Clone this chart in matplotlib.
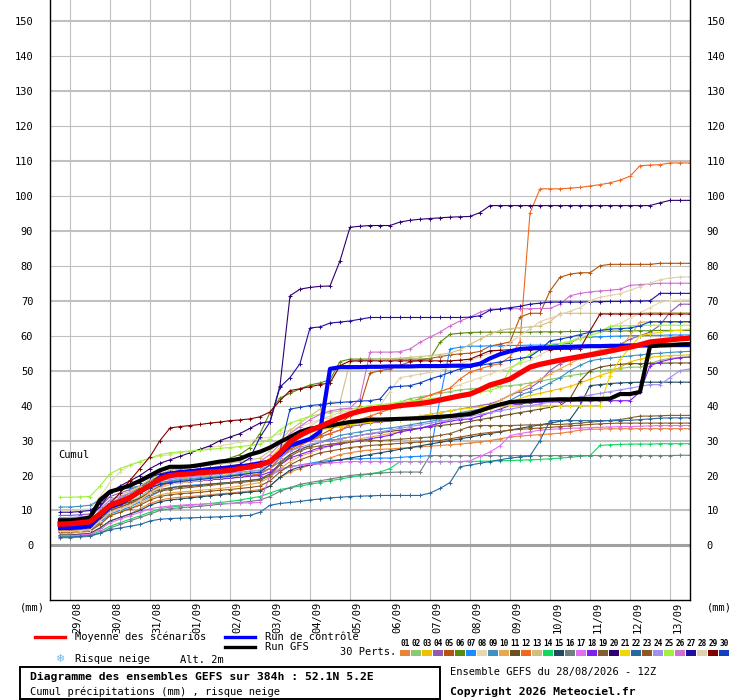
import matplotlib
matplotlib.use('Agg')
import matplotlib.pyplot as plt
from matplotlib.lines import Line2D
from matplotlib.patches import Rectangle
import numpy as np

# ---- data (cumulative precipitation, mm, every 6h from +6h to +384h) ----
hours = np.arange(6, 385, 6)

mean_run = [6.1, 6.2, 6.5, 6.8, 9.0, 11.5, 12.5, 13.7,
            15.5, 17.2, 19.0, 20.0, 20.3, 20.5, 20.8, 21.0,
            21.2, 21.5, 22.0, 22.5, 23.0, 24.0, 26.5, 29.6,
            31.5, 32.9, 34.0, 35.3, 36.5, 37.6, 38.4, 39.0,
            39.3, 39.6, 40.0, 40.3, 40.6, 41.0, 41.6, 42.2,
            42.8, 43.3, 44.5, 45.9, 46.7, 47.6, 49.3, 51.0,
            51.8, 52.4, 53.0, 53.5, 54.0, 54.5, 55.0, 55.6,
            56.2, 56.7, 57.4, 58.2, 58.5, 58.8, 59.1, 59.3]

gfs_run = [7.2, 7.2, 7.5, 8.0, 13.0, 15.4, 16.2, 17.2,
           18.5, 20.0, 21.5, 22.5, 22.5, 22.6, 23.0, 23.5,
           24.0, 24.3, 24.8, 26.0, 26.8, 28.0, 29.6, 31.0,
           32.5, 33.4, 33.8, 34.3, 34.8, 35.3, 35.6, 36.0,
           36.0, 36.1, 36.2, 36.3, 36.4, 36.6, 36.8, 37.0,
           37.3, 37.6, 38.5, 39.5, 40.3, 41.0, 41.2, 41.4,
           41.6, 41.7, 41.8, 41.8, 41.9, 41.9, 41.9, 42.0,
           43.3, 43.3, 43.9, 57.0, 57.2, 57.3, 57.5, 57.6]

control_run = [5.0, 5.0, 5.2, 5.5, 8.5, 11.0, 12.0, 13.5,
               15.5, 17.0, 19.5, 20.5, 21.0, 21.2, 21.5, 21.8,
               22.0, 22.2, 22.5, 23.0, 23.5, 24.0, 26.0, 28.6,
               29.5, 30.5, 32.5, 50.5, 51.0, 51.0, 51.0, 51.1,
               51.1, 51.2, 51.2, 51.2, 51.3, 51.3, 51.3, 51.4,
               51.4, 51.4, 52.0, 53.5, 54.7, 55.5, 56.2, 56.4,
               56.5, 56.6, 56.7, 56.8, 56.9, 57.0, 57.0, 57.1,
               57.1, 57.2, 57.2, 57.2, 57.3, 57.3, 57.3, 57.3]

pert01 = [3.0, 3.0, 3.2, 3.5, 5.0, 7.0, 8.0, 9.0, 10.5, 12.0, 13.0, 13.5, 13.8, 14.0, 14.2, 14.5,
          14.8, 15.0, 15.3, 15.6, 16.0, 17.0, 19.5, 21.0, 22.0, 23.0, 24.0, 25.0, 26.0, 26.5, 27.0, 27.3,
          27.5, 27.6, 27.8, 28.0, 28.2, 28.4, 28.6, 28.8, 29.0, 29.3, 29.6, 30.0, 30.5, 31.0, 31.3, 31.5,
          31.7, 31.9, 32.1, 32.5, 33.0, 33.2, 33.3, 33.4, 33.4, 33.4, 33.4, 33.4, 33.4, 33.4, 33.4, 33.4]
pert02 = [4.0, 4.0, 4.2, 4.5, 7.0, 10.0, 11.5, 12.5, 14.0, 16.0, 17.5, 18.5, 19.0, 19.2, 19.5, 19.8,
          20.0, 20.3, 20.6, 21.0, 21.5, 23.0, 26.0, 29.0, 31.0, 33.0, 34.5, 35.5, 36.5, 37.5, 38.5, 39.0,
          39.5, 40.0, 41.0, 42.0, 42.5, 43.0, 43.5, 44.0, 44.5, 44.8, 45.0, 45.3, 45.5, 45.7, 46.0, 46.5,
          47.0, 47.5, 48.0, 48.6, 49.0, 49.5, 50.0, 50.3, 50.6, 51.0, 51.0, 52.0, 53.0, 53.5, 53.8, 53.9]
pert03 = [5.0, 5.0, 5.3, 5.6, 8.0, 11.0, 12.5, 13.5, 15.0, 17.0, 18.5, 19.5, 20.0, 20.2, 20.5, 20.8,
          21.0, 21.3, 21.6, 22.0, 22.5, 24.0, 27.0, 30.0, 31.5, 32.5, 33.0, 33.5, 34.0, 34.5, 35.0, 35.3,
          35.6, 35.8, 36.0, 36.2, 36.4, 36.6, 36.8, 37.0, 37.3, 37.6, 38.3, 39.0, 40.0, 41.0, 42.0, 42.9,
          43.5, 44.2, 44.8, 45.5, 46.5, 47.5, 48.6, 49.5, 51.0, 52.5, 53.3, 53.8, 54.1, 54.3, 54.4, 54.5]
pert04 = [8.6, 8.6, 8.8, 9.0, 11.0, 14.0, 15.0, 16.0, 17.0, 18.5, 19.5, 20.0, 20.3, 20.5, 20.8, 21.0,
          21.2, 21.5, 21.8, 22.0, 22.5, 24.0, 26.0, 28.0, 29.0, 30.0, 31.0, 32.0, 33.0, 34.0, 34.5, 35.0,
          35.3, 35.6, 36.0, 36.5, 37.0, 37.5, 38.0, 38.5, 39.0, 39.5, 40.0, 40.5, 41.5, 43.0, 44.0, 45.0,
          47.0, 50.0, 52.0, 53.0, 54.0, 55.0, 55.5, 56.0, 57.5, 59.0, 60.0, 61.0, 63.0, 66.7, 69.0, 69.0]
pert05 = [4.5, 4.5, 4.7, 5.0, 7.5, 10.0, 11.0, 12.0, 13.5, 15.5, 17.0, 18.0, 18.3, 18.5, 18.7, 19.0,
          19.2, 19.5, 19.8, 20.0, 20.5, 22.0, 25.0, 27.5, 29.0, 30.0, 31.5, 33.0, 35.0, 37.0, 40.0, 49.3,
          50.0, 50.5, 51.5, 52.5, 53.0, 53.5, 54.0, 54.5, 54.8, 55.0, 55.5, 57.0, 57.6, 58.2, 65.3, 66.4,
          66.4, 72.8, 76.7, 77.6, 78.0, 78.0, 80.0, 80.4, 80.4, 80.4, 80.4, 80.4, 80.7, 80.7, 80.7, 80.7]
pert06 = [6.0, 6.0, 6.2, 6.5, 9.0, 12.0, 13.5, 15.0, 16.5, 18.5, 20.0, 21.5, 22.0, 22.5, 23.0, 23.5,
          24.0, 25.0, 26.0, 28.0, 32.0, 38.0, 42.2, 43.5, 44.8, 45.9, 46.5, 47.4, 52.6, 53.3, 53.3, 53.3,
          53.3, 53.3, 53.3, 53.3, 53.3, 53.4, 58.1, 60.4, 60.7, 60.9, 61.0, 61.0, 61.0, 61.0, 61.0, 61.0,
          61.1, 61.1, 61.1, 61.2, 61.2, 61.2, 61.3, 61.3, 61.3, 61.4, 61.4, 61.4, 61.5, 61.5, 61.5, 61.5]
pert07 = [4.0, 4.0, 4.2, 4.4, 6.5, 9.0, 10.0, 11.0, 12.5, 14.0, 15.5, 16.5, 17.0, 17.2, 17.4, 17.6,
          17.8, 18.0, 18.3, 18.6, 19.0, 20.0, 21.5, 22.5, 23.0, 23.5, 24.0, 24.3, 24.5, 24.7, 24.8, 24.9,
          25.0, 25.0, 25.2, 25.4, 25.5, 25.7, 42.0, 56.2, 56.7, 57.0, 57.0, 57.1, 57.1, 57.2, 57.2, 57.3,
          57.3, 57.4, 57.5, 57.8, 59.6, 59.6, 59.7, 59.8, 59.9, 60.0, 60.0, 60.1, 60.1, 60.2, 60.2, 60.2]
pert08 = [10.0, 10.0, 10.2, 10.5, 14.0, 18.0, 21.0, 23.0, 24.0, 25.0, 25.5, 26.0, 26.5, 27.0, 27.5, 28.0,
          28.5, 29.0, 29.5, 30.0, 30.5, 31.0, 32.0, 33.0, 34.0, 35.0, 36.0, 36.5, 37.0, 37.5, 38.0, 38.5,
          39.0, 39.5, 40.0, 41.0, 42.0, 43.0, 44.0, 45.0, 46.0, 47.0, 48.0, 49.0, 50.0, 51.0, 52.0, 53.0,
          54.5, 56.0, 57.5, 58.5, 59.5, 60.5, 61.5, 62.5, 63.5, 65.0, 66.5, 68.0, 69.5, 70.0, 70.2, 70.2]
pert09 = [11.0, 11.0, 11.2, 11.5, 13.0, 15.0, 16.0, 16.5, 17.0, 17.5, 18.0, 18.5, 18.7, 19.0, 19.2, 19.5,
          19.7, 20.0, 20.3, 20.6, 21.0, 22.0, 24.0, 26.0, 27.5, 28.5, 29.5, 30.5, 31.5, 32.0, 32.5, 33.0,
          33.3, 33.6, 34.0, 34.5, 35.0, 35.5, 36.0, 37.0, 38.0, 38.5, 39.0, 39.5, 40.0, 41.5, 43.0, 44.0,
          45.0, 46.5, 48.0, 50.0, 51.5, 52.8, 53.3, 53.6, 53.9, 54.2, 54.5, 54.8, 55.0, 55.2, 55.4, 55.5]
pert10 = [3.5, 3.5, 3.7, 4.0, 6.0, 8.5, 9.5, 10.5, 12.0, 13.5, 14.5, 15.0, 15.3, 15.5, 15.8, 16.0,
          16.3, 16.6, 17.0, 17.5, 18.0, 19.5, 22.0, 24.0, 25.5, 26.5, 27.5, 28.5, 29.5, 30.0, 30.5, 31.0,
          31.5, 32.0, 32.5, 33.0, 33.5, 34.0, 35.0, 36.0, 37.0, 38.0, 39.0, 40.0, 41.5, 43.0, 44.5, 46.0,
          47.5, 49.0, 50.5, 52.0, 53.5, 55.0, 56.0, 56.3, 56.5, 60.0, 63.9, 63.9, 63.9, 63.9, 63.9, 63.9]
pert11 = [5.5, 5.5, 5.7, 6.0, 8.0, 10.5, 11.5, 12.5, 13.5, 15.0, 16.0, 16.5, 16.8, 17.0, 17.2, 17.5,
          17.8, 18.0, 18.3, 18.6, 19.0, 20.5, 23.5, 26.0, 27.5, 28.5, 29.5, 30.0, 30.5, 31.0, 31.5, 32.0,
          32.3, 32.6, 33.0, 33.3, 33.6, 34.0, 34.3, 34.6, 35.0, 35.5, 36.0, 36.5, 37.0, 37.5, 38.0, 38.5,
          39.0, 39.5, 40.0, 42.0, 47.0, 50.0, 51.0, 51.5, 51.8, 52.0, 52.0, 52.1, 52.1, 52.2, 52.2, 52.2]
pert12 = [4.2, 4.2, 4.4, 4.6, 7.0, 9.5, 10.5, 11.5, 13.0, 15.0, 16.5, 17.5, 18.0, 18.2, 18.5, 18.8,
          19.0, 19.3, 19.6, 20.0, 20.5, 22.0, 25.0, 27.0, 28.5, 30.0, 31.0, 32.0, 33.0, 34.5, 36.0, 37.0,
          38.0, 39.0, 40.0, 41.0, 42.0, 43.0, 44.0, 45.0, 47.6, 49.6, 50.5, 51.4, 52.0, 54.0, 58.3, 95.1,
          102.0, 102.0, 102.0, 102.2, 102.4, 102.8, 103.2, 103.7, 104.5, 105.6, 108.6, 108.8, 108.9, 109.4, 109.4, 109.4]
pert13 = [7.0, 7.0, 7.2, 7.5, 10.0, 13.0, 14.5, 15.5, 17.0, 19.0, 20.5, 21.5, 22.0, 22.3, 22.6, 23.0,
          23.3, 23.6, 24.0, 24.5, 25.0, 27.0, 30.0, 33.0, 35.0, 37.0, 39.0, 41.0, 41.0, 52.5, 52.8, 53.0,
          53.2, 53.4, 53.6, 53.8, 54.0, 54.3, 54.6, 55.0, 56.0, 57.5, 59.0, 60.5, 61.5, 62.0, 62.3, 62.5,
          62.8, 64.0, 66.4, 66.4, 66.4, 66.4, 66.4, 66.4, 66.4, 66.4, 66.4, 66.6, 66.6, 66.6, 66.6, 66.6]
pert14 = [2.6, 2.6, 2.8, 3.0, 4.0, 5.5, 6.5, 7.5, 8.5, 9.5, 10.5, 11.0, 11.3, 11.5, 11.7, 12.0,
          12.3, 12.6, 13.0, 13.5, 14.0, 15.0, 16.0, 16.5, 17.0, 17.5, 18.0, 18.5, 19.0, 19.5, 20.0, 20.5,
          21.0, 22.0, 24.0, 24.0, 24.0, 24.0, 24.0, 24.0, 24.0, 24.0, 24.1, 24.1, 24.2, 24.3, 24.4, 24.5,
          24.6, 24.8, 25.0, 25.2, 25.5, 25.7, 28.6, 28.8, 28.9, 29.0, 29.0, 29.0, 29.1, 29.1, 29.1, 29.1]
pert15 = [3.0, 3.0, 3.2, 3.4, 5.0, 7.0, 8.0, 9.0, 10.0, 11.5, 12.5, 13.0, 13.3, 13.6, 13.9, 14.2,
          14.5, 14.8, 15.0, 15.3, 15.6, 17.0, 19.5, 21.5, 22.5, 23.0, 23.5, 24.0, 24.5, 25.0, 25.5, 26.0,
          26.5, 27.0, 27.5, 28.0, 28.5, 29.0, 29.5, 30.0, 30.5, 31.0, 31.5, 32.0, 32.5, 33.0, 33.5, 34.0,
          34.5, 35.0, 35.5, 36.0, 40.0, 45.7, 46.0, 46.3, 46.5, 46.6, 46.7, 46.7, 46.7, 46.7, 46.7, 46.7]
pert16 = [2.2, 2.2, 2.4, 2.6, 3.5, 5.0, 6.0, 7.0, 8.0, 9.0, 10.0, 10.5, 10.8, 11.0, 11.2, 11.5,
          11.8, 12.0, 12.3, 12.6, 13.0, 14.0, 15.5, 16.5, 17.5, 18.0, 18.5, 19.0, 19.5, 20.0, 20.3, 20.5,
          20.7, 20.9, 21.0, 21.0, 21.0, 25.7, 25.7, 25.7, 25.7, 25.7, 25.7, 25.7, 25.7, 25.7, 25.7, 25.7,
          25.7, 25.7, 25.7, 25.7, 25.7, 25.7, 25.7, 25.7, 25.7, 25.7, 25.7, 25.7, 25.7, 25.7, 25.8, 25.8]
pert17 = [2.8, 2.8, 3.0, 3.2, 4.5, 6.5, 7.5, 8.5, 9.5, 10.5, 11.0, 11.3, 11.5, 11.7, 11.8, 12.0,
          12.0, 12.0, 12.1, 12.2, 12.3, 20.0, 22.0, 22.5, 23.0, 23.2, 23.4, 23.6, 23.8, 24.0, 24.0, 24.0,
          24.0, 24.0, 24.0, 24.0, 24.0, 24.0, 24.0, 24.0, 24.0, 24.2, 25.5, 26.7, 28.5, 31.4, 32.0, 32.5,
          33.0, 33.2, 33.4, 33.5, 33.6, 33.7, 33.8, 33.9, 34.0, 34.0, 34.1, 34.2, 34.3, 34.3, 34.3, 34.3]
pert18 = [6.5, 6.5, 6.7, 7.0, 9.5, 12.0, 13.0, 14.0, 15.0, 16.5, 17.5, 18.0, 18.2, 18.4, 18.6, 18.8,
          19.0, 19.2, 19.5, 19.8, 20.0, 21.0, 23.0, 25.0, 26.0, 27.0, 28.0, 28.5, 29.0, 29.5, 30.0, 30.5,
          31.0, 31.5, 32.5, 33.0, 33.5, 34.3, 35.0, 35.5, 36.0, 36.2, 37.0, 38.0, 39.0, 40.0, 40.5, 40.8,
          41.0, 41.0, 41.1, 41.2, 41.3, 41.3, 41.4, 41.4, 41.4, 41.4, 43.9, 51.4, 52.5, 53.2, 53.7, 53.9]
pert19 = [4.8, 4.8, 5.0, 5.2, 7.5, 10.0, 11.0, 12.0, 13.0, 14.5, 15.5, 16.0, 16.3, 16.6, 16.9, 17.2,
          17.5, 17.8, 18.0, 18.3, 18.6, 20.0, 23.0, 25.5, 27.0, 28.0, 28.5, 29.0, 29.3, 29.6, 29.8, 30.0,
          30.0, 30.2, 30.4, 30.6, 30.8, 31.0, 31.5, 32.0, 33.0, 34.0, 34.3, 34.3, 34.3, 34.3, 34.4, 34.5,
          34.5, 34.6, 34.6, 34.8, 35.0, 35.3, 35.5, 35.8, 36.0, 36.5, 37.0, 37.0, 37.1, 37.2, 37.2, 37.2]
pert20 = [7.5, 7.5, 7.7, 8.0, 11.0, 15.0, 17.0, 18.5, 20.0, 22.0, 23.5, 24.5, 25.5, 26.5, 27.5, 28.5,
          30.0, 31.0, 32.0, 33.5, 35.0, 35.4, 45.7, 71.4, 73.3, 73.8, 74.1, 74.2, 81.4, 91.0, 91.3, 91.5,
          91.5, 91.5, 92.5, 93.0, 93.3, 93.5, 93.7, 93.9, 94.0, 94.1, 95.2, 97.2, 97.2, 97.2, 97.2, 97.2,
          97.2, 97.2, 97.2, 97.2, 97.2, 97.2, 97.2, 97.2, 97.2, 97.2, 97.2, 97.2, 98.0, 98.7, 98.7, 98.7]
pert21 = [5.2, 5.2, 5.4, 5.7, 8.5, 11.5, 13.0, 14.0, 15.5, 17.5, 19.0, 20.0, 20.4, 20.7, 21.0, 21.3,
          21.6, 22.0, 22.3, 22.6, 23.0, 25.0, 28.0, 30.5, 32.0, 33.0, 33.5, 34.0, 34.3, 34.6, 35.0, 35.3,
          35.5, 35.8, 36.0, 36.5, 37.0, 37.5, 38.0, 38.5, 39.0, 39.3, 39.6, 39.8, 40.0, 40.0, 40.0, 40.0,
          40.0, 40.0, 40.0, 40.0, 40.0, 40.0, 40.0, 48.6, 53.3, 56.5, 60.0, 60.5, 61.0, 61.3, 61.6, 61.9]
pert22 = [2.4, 2.4, 2.6, 2.8, 3.5, 4.5, 5.0, 5.5, 6.0, 7.0, 7.5, 7.7, 7.8, 7.9, 8.0, 8.1,
          8.2, 8.3, 8.5, 8.6, 9.5, 11.5, 12.0, 12.3, 12.6, 13.0, 13.3, 13.6, 13.8, 14.0, 14.1, 14.2,
          14.3, 14.3, 14.3, 14.3, 14.3, 15.0, 16.3, 18.0, 22.5, 23.0, 23.5, 24.0, 24.5, 25.0, 25.3, 25.6,
          30.0, 35.7, 35.7, 35.7, 35.7, 35.7, 35.7, 35.7, 35.7, 35.8, 36.0, 36.2, 36.4, 36.5, 36.5, 36.5]
pert23 = [3.8, 3.8, 4.0, 4.2, 6.0, 8.5, 9.5, 10.5, 11.5, 13.0, 14.0, 14.5, 14.8, 15.0, 15.2, 15.5,
          15.8, 16.0, 16.3, 16.6, 17.0, 18.5, 21.0, 23.0, 24.5, 25.5, 26.5, 27.0, 27.5, 28.0, 28.3, 28.6,
          28.8, 29.0, 29.2, 29.4, 29.6, 29.8, 30.0, 30.5, 31.0, 31.5, 32.0, 32.3, 32.6, 33.0, 33.2, 33.4,
          33.6, 33.8, 34.0, 34.2, 34.4, 34.6, 34.8, 34.9, 35.0, 35.0, 35.0, 35.0, 35.0, 35.0, 35.0, 35.0]
pert24 = [8.0, 8.0, 8.2, 8.5, 10.5, 13.0, 14.0, 15.0, 16.0, 17.5, 18.5, 19.0, 19.3, 19.6, 19.9, 20.2,
          20.5, 20.8, 21.0, 21.3, 21.6, 23.0, 25.0, 27.0, 28.0, 29.0, 29.5, 30.0, 30.5, 31.0, 31.5, 32.0,
          32.5, 33.0, 33.5, 34.0, 34.5, 35.0, 35.5, 36.0, 36.5, 37.0, 37.5, 38.0, 38.5, 39.0, 39.5, 40.0,
          40.5, 41.0, 41.5, 42.0, 42.5, 43.0, 43.5, 44.0, 44.5, 45.0, 45.5, 46.0, 46.0, 48.0, 50.0, 50.5]
pert25 = [13.8, 13.8, 13.9, 14.0, 17.0, 20.5, 22.0, 23.0, 24.0, 25.0, 26.0, 26.5, 26.8, 27.0, 27.2, 27.5,
          27.8, 28.0, 28.3, 28.6, 29.0, 30.5, 33.0, 35.0, 36.0, 37.0, 37.5, 38.0, 38.5, 39.0, 39.5, 40.0,
          40.3, 40.6, 41.0, 41.3, 41.6, 42.0, 42.3, 42.6, 43.0, 43.3, 43.8, 44.3, 45.3, 50.5, 52.5, 54.7,
          56.0, 57.6, 57.8, 58.3, 59.0, 60.0, 61.0, 62.7, 62.8, 62.9, 62.9, 63.0, 63.0, 63.0, 63.0, 63.0]
pert26 = [5.8, 5.8, 6.0, 6.3, 9.0, 12.0, 13.5, 14.5, 16.0, 18.0, 19.5, 20.5, 21.0, 21.3, 21.6, 22.0,
          22.3, 22.6, 23.0, 23.5, 24.0, 26.0, 29.0, 32.0, 34.0, 36.0, 37.5, 38.5, 39.0, 39.3, 42.0, 55.3,
          55.3, 55.3, 55.4, 56.2, 58.1, 59.6, 61.0, 62.8, 64.2, 65.3, 66.7, 67.6, 67.6, 67.7, 67.7, 67.7,
          67.8, 67.8, 69.0, 71.4, 72.1, 72.5, 72.8, 73.0, 73.3, 74.4, 74.6, 74.8, 75.0, 75.0, 75.0, 75.0]
pert27 = [9.5, 9.5, 9.7, 10.0, 12.0, 15.0, 16.0, 17.0, 18.0, 19.5, 20.5, 21.0, 21.3, 21.6, 21.9, 22.2,
          22.5, 22.8, 23.2, 25.0, 31.0, 35.3, 45.3, 48.0, 52.0, 62.2, 62.5, 63.6, 63.9, 64.2, 64.7, 65.2,
          65.2, 65.2, 65.2, 65.2, 65.2, 65.2, 65.2, 65.2, 65.2, 65.3, 65.7, 67.3, 67.6, 68.0, 68.4, 69.0,
          69.3, 69.6, 69.6, 69.6, 69.6, 69.7, 69.7, 69.8, 69.8, 69.9, 69.9, 70.0, 72.1, 72.1, 72.1, 72.1]
pert28 = [4.0, 4.0, 4.2, 4.5, 7.0, 9.5, 10.5, 11.5, 13.0, 15.0, 16.5, 17.5, 18.0, 18.3, 18.6, 19.0,
          19.3, 19.6, 20.0, 20.5, 21.0, 23.0, 27.0, 30.0, 32.0, 34.0, 36.0, 37.0, 38.0, 38.5, 39.0, 39.5,
          40.0, 44.0, 48.0, 48.5, 49.0, 49.5, 50.0, 51.0, 52.0, 53.0, 54.0, 55.0, 56.0, 58.0, 60.0, 62.0,
          64.0, 65.0, 66.0, 67.0, 68.0, 70.0, 71.0, 71.5, 72.0, 73.0, 74.0, 75.0, 76.0, 76.5, 76.8, 76.8]
pert29 = [5.0, 5.0, 5.2, 5.5, 8.0, 12.0, 15.0, 18.6, 22.0, 25.4, 30.0, 33.6, 34.0, 34.3, 34.6, 35.0,
          35.3, 35.7, 35.9, 36.2, 36.8, 38.2, 41.4, 44.3, 44.8, 45.4, 46.0, 46.5, 51.4, 52.8, 52.8, 52.8,
          52.8, 52.8, 52.8, 52.8, 52.8, 52.8, 52.8, 52.8, 53.0, 53.3, 54.5, 55.7, 55.8, 56.0, 56.0, 56.0,
          56.0, 56.0, 56.1, 56.1, 56.2, 61.4, 66.2, 66.2, 66.2, 66.2, 66.2, 66.2, 66.2, 66.2, 66.2, 66.2]
pert30 = [6.5, 6.5, 6.7, 7.0, 9.0, 12.0, 13.0, 14.0, 15.0, 16.5, 17.5, 18.0, 18.3, 18.6, 18.9, 19.2,
          19.5, 19.8, 20.2, 20.6, 21.0, 23.0, 27.0, 39.0, 39.5, 40.0, 40.3, 40.6, 40.9, 41.1, 41.3, 41.4,
          41.9, 45.3, 45.5, 45.7, 46.5, 47.6, 48.5, 49.5, 50.5, 51.0, 51.5, 52.0, 52.5, 53.0, 53.5, 54.0,
          56.0, 58.5, 59.0, 59.6, 60.3, 61.0, 61.5, 61.9, 62.0, 62.2, 62.8, 64.0, 64.0, 64.0, 64.0, 64.0]

perts = [pert01, pert02, pert03, pert04, pert05, pert06, pert07, pert08, pert09, pert10,
         pert11, pert12, pert13, pert14, pert15, pert16, pert17, pert18, pert19, pert20,
         pert21, pert22, pert23, pert24, pert25, pert26, pert27, pert28, pert29, pert30]

pert_colors = ['#e8833a', '#8bc870', '#f0c000', '#8e5bb0', '#b5530f', '#5a8a10',
               '#1a8cff', '#e8d8b0', '#4090c0', '#e8a850', '#6b5020', '#f06820',
               '#d0c080', '#10d860', '#204a60', '#708080', '#e070f0', '#8020f0',
               '#806030', '#300070', '#f0d800', '#2868a0', '#905820', '#a090f0',
               '#a0f040', '#d070d0', '#2010a0', '#e0d0b0', '#800000', '#1040c0']

day_hours = list(range(12, 385, 24))
day_labels = ['29/08', '30/08', '31/08', '01/09', '02/09', '03/09', '04/09', '05/09',
              '06/09', '07/09', '08/09', '09/09', '10/09', '11/09', '12/09', '13/09']
y_ticks = list(range(0, 151, 10))

# ---- figure ----
W, H = 740, 700
mono = ['DejaVu Sans Mono', 'DejaVu Sans']
plt.rcParams['font.family'] = mono
fig = plt.figure(figsize=(W / 100, H / 100), dpi=100)
ax = fig.add_axes([50 / W, 1 - 600 / H, 640 / W, 600 / H])
ax.set_xlim(0, 384)
ax.set_ylim(-15.6, 156.0)

def px(x, y):
    return x / W, 1 - y / H

for h in day_hours:
    ax.axvline(h, color='#c0c0c0', lw=0.8, zorder=0)
for v in y_ticks[1:]:
    ax.axhline(v, color='#c0c0c0', lw=1.5 if (v // 10) % 2 == 1 else 0.8, zorder=0)
ax.axhline(0, color='#a0a0a0', lw=2.2, zorder=0)

for vals, col in zip(perts, pert_colors):
    ax.plot(hours, vals, color=col, lw=0.8, marker='+', ms=3.5, mew=0.7, zorder=2)

ax.plot(hours, control_run, color='#0000ff', lw=3.0, zorder=3)
ax.plot(hours, gfs_run, color='black', lw=3.0, zorder=4)
ax.plot(hours, mean_run, color='#ff0000', lw=3.8, zorder=5)

ax.text(5, 26, 'Cumul', fontsize=7.5, va='center', ha='left')

ax.set_xticks([])
ax.set_yticks(y_ticks)
ax.set_yticklabels([str(v) for v in y_ticks])
ax.tick_params(axis='y', length=0, labelsize=7.5, labelleft=True, labelright=True)
for lab in ax.get_yticklabels():
    lab.set_horizontalalignment('right')
ax.yaxis.set_tick_params(pad=10)
for lab in ax.yaxis.get_ticklabels(which='major'):
    pass
ax.tick_params(axis='y', which='major', pad=10)
for t in ax.yaxis.get_major_ticks():
    t.label2.set_horizontalalignment('left')
    t.label2.set_x(1.0)
ax.tick_params(axis='y', pad=12)

ax.spines['top'].set_visible(False)
for s in ['left', 'right', 'bottom']:
    ax.spines[s].set_color('black')
    ax.spines[s].set_linewidth(1.0)

for h, lab in zip(day_hours, day_labels):
    ax.text(h + 4.5, -16.2, lab, rotation=90, ha='center', va='top', fontsize=7.5)

fig.text(*px(20, 607), '(mm)', fontsize=7.5, va='center', ha='left')
fig.text(*px(707, 607), '(mm)', fontsize=7.5, va='center', ha='left')

# ---- legend ----
def bar(x0, x1, y, col):
    fig.add_artist(Line2D([x0 / W, x1 / W], [1 - y / H, 1 - y / H], color=col, lw=2.4,
                          transform=fig.transFigure))

bar(35, 65, 637, '#ff0000')
fig.text(*px(75, 637), 'Moyenne des scénarios', fontsize=7.5, va='center')
bar(225, 255, 637, '#0000ff')
fig.text(*px(265, 637), 'Run de contrôle', fontsize=7.5, va='center')
bar(225, 255, 647, 'black')
fig.text(*px(265, 647), 'Run GFS', fontsize=7.5, va='center')
fig.text(*px(340, 652), '30 Perts.', fontsize=7.5, va='center')

for k, col in enumerate(pert_colors):
    x0 = 400 + k * 11
    fig.add_artist(Rectangle(px(x0, 656), 10 / W, 6 / H, facecolor=col, edgecolor='none',
                             transform=fig.transFigure))
    fig.text(*px(x0 + 5, 643), '%02d' % (k + 1), fontsize=5.6, fontweight='bold',
             ha='center', va='center')

fig.text(*px(60, 659), '\u2744', fontsize=8, color='#70b8f0', ha='center', va='center',
         family=['DejaVu Sans'])
fig.text(*px(75, 659), 'Risque neige', fontsize=7.5, va='center')
fig.text(*px(180, 660), 'Alt. 2m', fontsize=7.5, va='center')

fig.add_artist(Rectangle(px(20, 699), 420 / W, 32 / H, facecolor='none', edgecolor='black',
                         lw=1.4, transform=fig.transFigure))
fig.text(*px(30, 677), 'Diagramme des ensembles GEFS sur 384h : 52.1N 5.2E', fontsize=8.2,
         fontweight='bold', va='center')
fig.text(*px(30, 692), 'Cumul précipitations (mm) , risque neige', fontsize=7.5, va='center')
fig.text(*px(450, 672), 'Ensemble GEFS du 28/08/2026 - 12Z', fontsize=7.5, va='center')
fig.text(*px(450, 692), 'Copyright 2026 Meteociel.fr', fontsize=8.2, fontweight='bold',
         va='center')

fig.savefig('out.png', dpi=100, facecolor='white')
